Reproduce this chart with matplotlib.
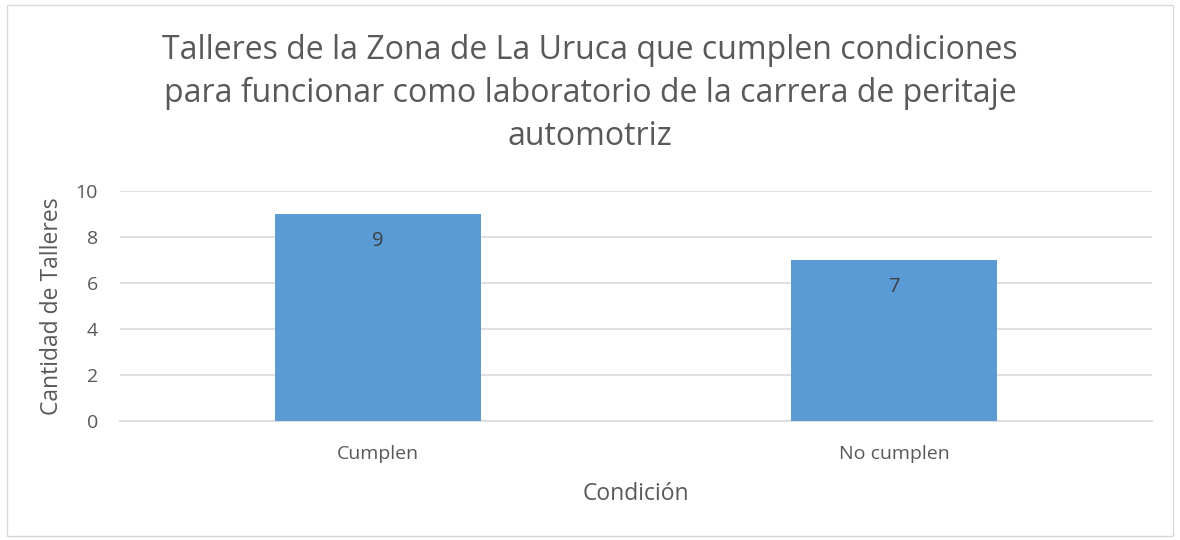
import matplotlib.pyplot as plt
from matplotlib.patches import Rectangle

categories = ['Cumplen', 'No cumplen']
values = [9, 7]
yticks = [0, 2, 4, 6, 8, 10]

plt.rcParams['font.family'] = ['Open Sans', 'DejaVu Sans']
gray = '#595959'

fig = plt.figure(figsize=(11.8, 5.4), dpi=100)
ax = fig.add_axes([0.1017, 0.2204, 0.8746, 0.4259])

x = range(len(categories))
bars = ax.bar(x, values, width=0.4, color='#5B9BD5', zorder=3)
for b, v in zip(bars, values):
    ax.text(b.get_x() + b.get_width() / 2, v - 0.75, str(v), ha='center', va='top',
            fontsize=14.5, color='#404040', zorder=4)

ax.set_xlim(-0.5, 1.5)
ax.set_ylim(0, 10)
ax.set_yticks(yticks)
ax.set_xticks(list(x))
ax.set_xticklabels(categories)
ax.grid(axis='y', color='#D9D9D9', linewidth=1.2, zorder=0)
for s in ['top', 'right', 'left']:
    ax.spines[s].set_visible(False)
ax.spines['bottom'].set_color('#D9D9D9')
ax.spines['bottom'].set_linewidth(1.2)
ax.tick_params(length=0, labelcolor=gray, labelsize=14)
ax.tick_params(axis='x', pad=17)
ax.tick_params(axis='y', pad=16)

ax.set_xlabel('Condición', fontsize=16.5, color=gray, labelpad=14)
ax.set_ylabel('Cantidad de Talleres', fontsize=16.5, color=gray, labelpad=8)

fig.text(0.5, 0.827, 'Talleres de la Zona de La Uruca que cumplen condiciones\n'
         'para funcionar como laboratorio de la carrera de peritaje\nautomotriz',
         ha='center', va='center', fontsize=23, color=gray, linespacing=1.38)

fig.patches.append(Rectangle((0.006, 0.008), 0.988, 0.982, transform=fig.transFigure,
                             fill=False, edgecolor='#D9D9D9', linewidth=1))

fig.savefig('out.png', dpi=100)
